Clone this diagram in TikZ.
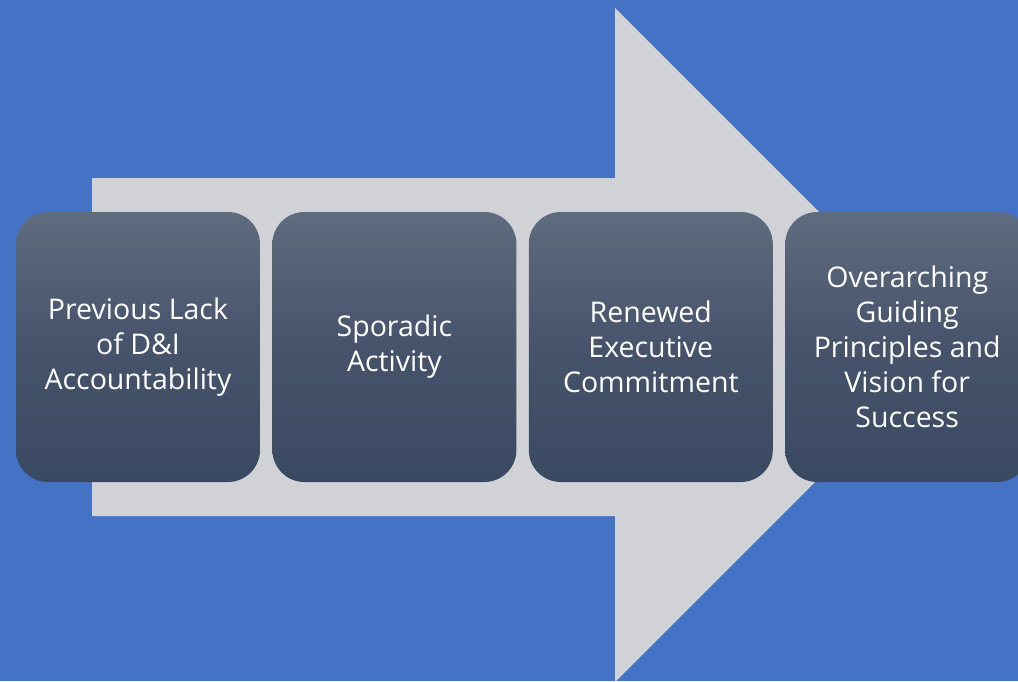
\documentclass[tikz,border=0pt]{standalone}
\usepackage{fontspec}
\setmainfont{Open Sans}
\usetikzlibrary{positioning}
\definecolor{bgblue}{HTML}{4472C4}
\definecolor{arrowgray}{HTML}{D0D2D6}
\definecolor{boxtop}{HTML}{5F6B7E}
\definecolor{boxmid}{HTML}{46536B}
\definecolor{boxbot}{HTML}{3A4962}
\tikzset{
    stagebox/.style={rounded corners=32pt, minimum width=244pt, minimum height=270pt,
        inner sep=0pt, top color=boxtop, bottom color=boxbot, middle color=boxmid,
        text=white, align=center, font=\fontsize{28.5}{35}\selectfont},
}
\begin{document}
\begin{tikzpicture}[x=1pt,y=-1pt]
        
        \fill[bgblue] (0,0) rectangle (1018,681);
        \useasboundingbox (0,0) rectangle (1018,681);
        \clip (0,0) rectangle (1018,681);
        
        % big arrow
        \fill[arrowgray] (92,178) -- (615,178) -- (615,8) -- (952,345) -- (615,682) -- (615,516) -- (92,516) -- cycle;
        
        \node[stagebox] (lack) at (138,347) {Previous Lack\\of D\&I\\Accountability};
        \node[stagebox, right=12pt of lack] (sporadic) {Sporadic\\Activity};
        \node[stagebox, right=12pt of sporadic] (renewed) {Renewed\\Executive\\Commitment};
        \node[stagebox, right=12pt of renewed] (vision) {Overarching\\Guiding\\Principles and\\Vision for\\Success};
        
        \end{tikzpicture}
\end{document}
